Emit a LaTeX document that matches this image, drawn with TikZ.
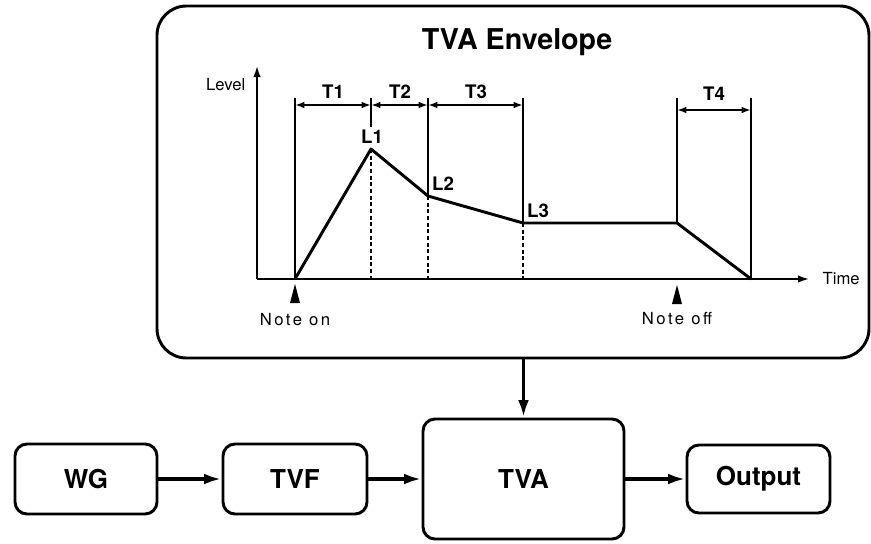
\documentclass[tikz,border=0pt]{standalone}
\usepackage{fontspec}
\setmainfont{TeX Gyre Heros}
\newfontfamily\notefont[LetterSpace=15]{TeX Gyre Heros}
\usetikzlibrary{arrows.meta,positioning}

\begin{document}
\begin{tikzpicture}[x=0.75pt,y=-0.75pt,line join=round,
  every node/.style={font=\fontsize{12}{14}\selectfont},
  blk/.style={draw,line width=2.2pt,rounded corners=9pt,inner sep=0pt,font=\fontsize{19.5}{22}\selectfont\bfseries},
  flowline/.style={-{Latex[length=13pt,width=8pt]},line width=2.6pt},
  axisline/.style={-{Latex[length=9pt,width=5.5pt]},line width=1.9pt},
  spanline/.style={{Latex[length=7pt,width=5pt]}-{Latex[length=7pt,width=5pt]},line width=1.6pt},
  tick/.style={line width=0.8pt},
  dots/.style={line width=1.3pt,dash pattern=on 3pt off 2pt},
  env/.style={line width=2.2pt},
  lbl/.style={font=\fontsize{14}{16}\selectfont\bfseries,inner sep=1pt},
  note/.style={font=\notefont\fontsize{12.5}{14}\selectfont}]
\useasboundingbox (0,0) rectangle (871,543);
\node[draw,line width=2.2pt,rounded corners=22pt,minimum width=534pt,minimum height=264pt] (envbox) at (513,182) {};
\node[font=\fontsize{21.5}{24}\selectfont\bfseries] (title) at (517,42) {TVA Envelope};
\coordinate (o) at (257,279);
\coordinate (top) at (0,98);
\coordinate (on) at (295,279);
\coordinate (l1) at (371,149);
\coordinate (l2) at (428,196);
\coordinate (l3) at (523,223);
\coordinate (off) at (677,223);
\coordinate (end) at (751,279);
\draw[axisline] (o) -- (257,65);
\draw[axisline] (o) -- (810,279);
\node[anchor=east,font=\fontsize{12.5}{14}\selectfont] (level) at (250,85) {Level};
\node[anchor=west,font=\fontsize{12.5}{14}\selectfont] (time) at (818,279) {Time};
\foreach \p in {on,l2,l3,off,end}
  \draw[tick] (\p |- top) -- (\p);
\draw[tick] (l1 |- top) -- (371,127);
\foreach \p in {l1,l2,l3}
  \draw[dots] (\p) -- (\p |- o);
\draw[env] (on) -- (l1) -- (l2) -- (l3) -- (off) -- (end);
\draw[spanline] (295,105) -- (371,105);
\draw[spanline] (371,105) -- (428,105);
\draw[spanline] (428,105) -- (523,105);
\draw[spanline] (677,110) -- (751,110);
\node[lbl] (t1) at (333,92) {T1};
\node[lbl] (t2) at (400,92) {T2};
\node[lbl] (t3) at (476,92) {T3};
\node[lbl] (t4) at (714,94) {T4};
\node[lbl] (n1) at (372,137) {L1};
\node[lbl] (n2) at (443,184) {L2};
\node[lbl] (n3) at (538,211) {L3};
\fill (295,284) -- (300,303) -- (290,303) -- cycle;
\fill (677,285) -- (682,304) -- (672,304) -- cycle;
\node[note] (noteon) at (295,320) {Note on};
\node[note] (noteoff) at (677,319) {Note off};
\node[blk,minimum width=106.5pt,minimum height=52.5pt] (wg) at (86,479) {WG};
\node[blk,minimum width=108pt,minimum height=52.5pt] (tvf) at (295,479) {TVF};
\node[blk,minimum width=150.75pt,minimum height=90pt] (tva) at (523.5,479) {TVA};
\node[blk,minimum width=107.25pt,minimum height=51pt] (out) at (758.5,479) {Output};
\draw[flowline] (wg) -- (tvf);
\draw[flowline] (tvf) -- (tva);
\draw[flowline] (tva) -- (out);
\draw[flowline] (envbox.south -| tva.north) -- (tva.north);
\end{tikzpicture}
\end{document}
